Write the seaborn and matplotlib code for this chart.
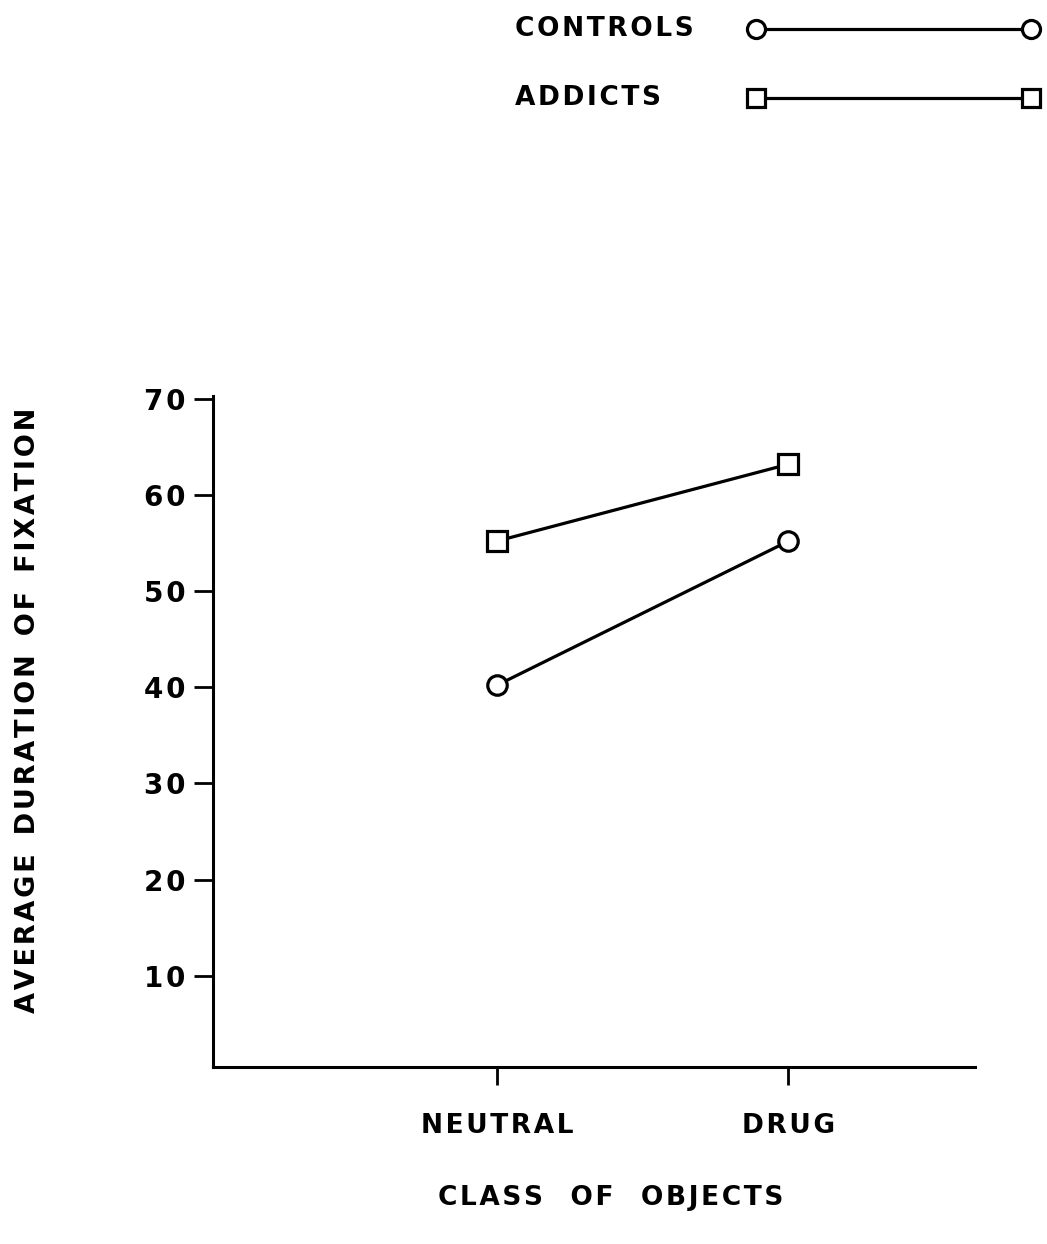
import seaborn as sns
import pandas as pd
import numpy as np
import matplotlib.pyplot as plt

# values
classes = ['NEUTRAL', 'DRUG']
controls = [40.2, 55.2]
addicts = [55.2, 63.2]
groups = ['CONTROLS', 'ADDICTS']
group_markers = {'CONTROLS': 'o', 'ADDICTS': 's'}
y_ticks = [10, 20, 30, 40, 50, 60, 70]


def spaced(s, gap=2):
    # old lettering-stencil look: hair space between letters, wide gap between words
    return (' ' * gap).join('\u200a'.join(w) for w in s.split())


sns.set_theme(style='white')
plt.rcParams['font.family'] = ['DejaVu Sans']
plt.rcParams['text.color'] = 'black'
plt.rcParams['axes.labelcolor'] = 'black'
plt.rcParams['xtick.color'] = 'black'
plt.rcParams['ytick.color'] = 'black'
plt.rcParams['font.weight'] = 'bold'
plt.rcParams['axes.labelweight'] = 'bold'

df = pd.DataFrame({
    'cls': classes * 2,
    'dur': controls + addicts,
    'group': [groups[0]] * 2 + [groups[1]] * 2,
})

fig = plt.figure(figsize=(10.47, 12.44), dpi=100)
ax = fig.add_axes([0.2034, 0.1423, 0.728, 0.5394])

sns.lineplot(data=df, x='cls', y='dur', hue='group', style='group',
             markers=group_markers, dashes=False,
             palette={'CONTROLS': 'black', 'ADDICTS': 'black'},
             linewidth=2.3, markersize=14, markerfacecolor='white',
             markeredgecolor='black', markeredgewidth=2.3,
             legend=False, ax=ax)

ax.set_xlim(-0.973, 1.64)
ax.set_ylim(0.5, 70.3)
ax.set_yticks(y_ticks)
ax.set_yticklabels([spaced(str(t)) for t in y_ticks])
ax.set_xticks([0, 1])
ax.set_xticklabels([spaced(c) for c in classes])
ax.set_xlabel('')
ax.set_ylabel(spaced('AVERAGE DURATION OF FIXATION'), fontsize=19.5, fontweight='bold')
ax.yaxis.set_label_coords(-0.225, 0.532)
sns.despine(ax=ax)
for s in ['left', 'bottom']:
    ax.spines[s].set_linewidth(2.2)
    ax.spines[s].set_color('black')
ax.tick_params(axis='y', direction='out', length=14, width=2, labelsize=20, pad=6, left=True)
ax.tick_params(axis='x', direction='out', length=13, width=2, labelsize=19, pad=20, bottom=True)

fig.text(0.583, 0.037, spaced('CLASS OF OBJECTS', gap=3), fontsize=19, ha='center', va='center')

# legend keys at the top
leg_df = pd.DataFrame({
    'k': [0, 1, 0, 1],
    'v': [1, 1, 0, 0],
    'group': [groups[0]] * 2 + [groups[1]] * 2,
})
lax = fig.add_axes([0.722, 0.9212, 0.2627, 0.0555])
sns.lineplot(data=leg_df, x='k', y='v', hue='group', style='group',
             markers=group_markers, dashes=False,
             palette={'CONTROLS': 'black', 'ADDICTS': 'black'},
             linewidth=2.3, markersize=13, markerfacecolor='white',
             markeredgecolor='black', markeredgewidth=2.3,
             legend=False, ax=lax)
for ln in lax.lines:
    ln.set_clip_on(False)
lax.set_xlim(0, 1)
lax.set_ylim(0, 1)
lax.axis('off')
fig.text(0.492, 0.977, spaced('CONTROLS'), fontsize=19, ha='left', va='center')
fig.text(0.492, 0.921, spaced('ADDICTS'), fontsize=19, ha='left', va='center')

fig.savefig('out.png', dpi=100)
